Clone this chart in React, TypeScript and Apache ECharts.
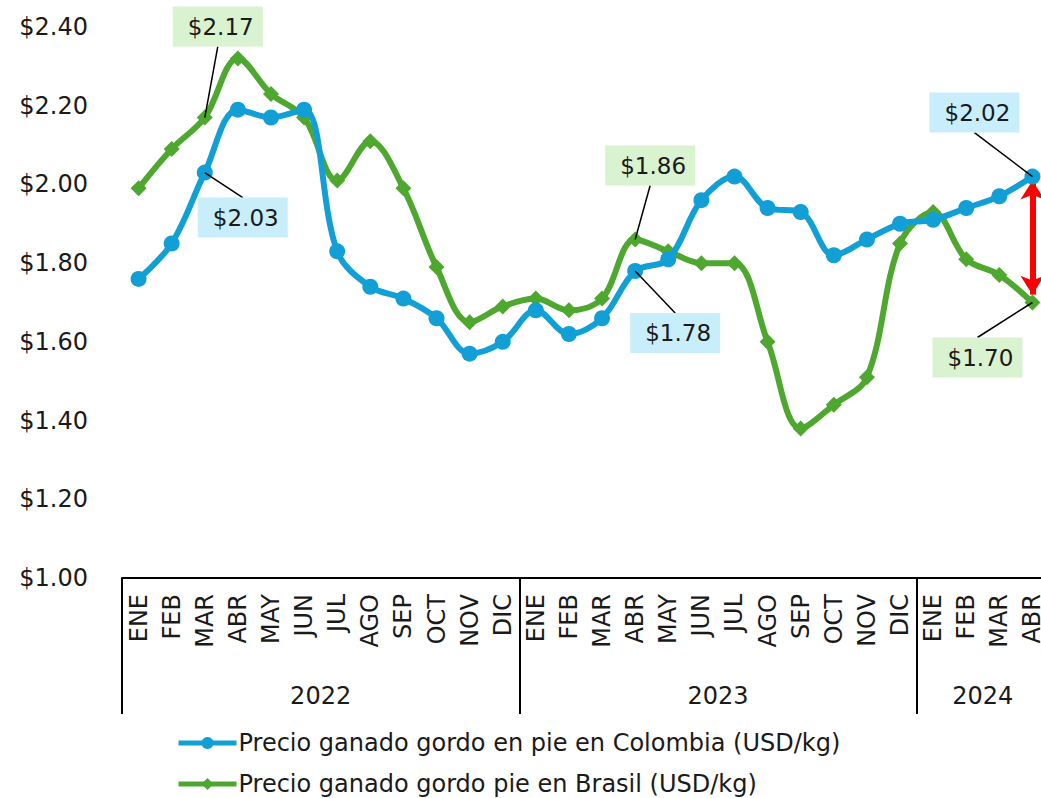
import React, { useEffect, useRef } from "react";
import * as echarts from "echarts";

const months = [
  "ENE", "FEB", "MAR", "ABR", "MAY", "JUN", "JUL", "AGO", "SEP", "OCT", "NOV", "DIC",
  "ENE", "FEB", "MAR", "ABR", "MAY", "JUN", "JUL", "AGO", "SEP", "OCT", "NOV", "DIC",
  "ENE", "FEB", "MAR", "ABR",
];
const years = ["2022", "2023", "2024"];
const yearCenters = [6, 18, 26];
const yearBounds = [0, 12, 24, 28];

const colombia = [
  1.76, 1.85, 2.03, 2.19, 2.17, 2.19, 1.83, 1.74, 1.71, 1.66, 1.57, 1.6,
  1.68, 1.62, 1.66, 1.78, 1.81, 1.96, 2.02, 1.94, 1.93, 1.82, 1.86, 1.9,
  1.91, 1.94, 1.97, 2.02,
];
const brasil = [
  1.99, 2.09, 2.17, 2.32, 2.23, 2.17, 2.01, 2.11, 1.99, 1.79, 1.65, 1.69,
  1.71, 1.68, 1.71, 1.86, 1.83, 1.8, 1.8, 1.6, 1.38, 1.44, 1.51, 1.85,
  1.93, 1.81, 1.77, 1.7,
];

const seriesNames = [
  "Precio ganado gordo en pie en Colombia (USD/kg)",
  "Precio ganado gordo pie en Brasil (USD/kg)",
];

// annotated points: [series, index, box dx, box dy, edge the leader line meets]
const notes: [number, number, number, number, "top" | "bottom"][] = [
  [1, 2, 13, -91, "bottom"],
  [0, 2, 38, 45, "top"],
  [1, 15, 15, -74, "bottom"],
  [0, 15, 40, 62, "top"],
  [0, 27, -58, -64, "bottom"],
  [1, 27, -55, 55, "top"],
];

const FONT = "DejaVu Sans";
const BLUE = "#129fd6";
const GREEN = "#4ea72e";
const BOX_BG = ["#c8eefb", "#d9f2d0"];
const TEXT = "#1a1a1a";

export default function App() {
  const ref = useRef<HTMLDivElement>(null);
  useEffect(() => {
    document.body.style.margin = "0";
    const chart = echarts.init(ref.current!, undefined, { renderer: "svg" });
    chart.setOption({
      animation: false,
      textStyle: { fontFamily: FONT },
      grid: {
        left: 122,
        width: 927,
        top: 27,
        bottom: 220,
        containLabel: false,
        outerBoundsMode: "none",
      },
      xAxis: [
        {
          type: "category",
          data: months,
          boundaryGap: true,
          axisLine: { lineStyle: { color: "#000", width: 2 } },
          axisTick: { show: false },
          axisLabel: { interval: 0, rotate: 90, fontSize: 24, color: TEXT, margin: 16, fontFamily: FONT },
        },
        {
          type: "value",
          min: 0,
          max: 28,
          position: "bottom",
          offset: 136,
          axisLine: { show: false },
          splitLine: { show: false },
          axisTick: {
            show: true,
            inside: true,
            length: 136,
            customValues: yearBounds,
            lineStyle: { color: "#000", width: 2 },
          },
          axisLabel: {
            show: true,
            inside: true,
            margin: 6,
            customValues: yearCenters,
            formatter: (v: number) => years[yearCenters.indexOf(v)] ?? "",
            fontSize: 24,
            color: TEXT,
            fontFamily: FONT,
          },
        },
      ],
      yAxis: {
        type: "value",
        min: 1,
        max: 2.4,
        interval: 0.2,
        axisLine: { show: false },
        axisTick: { show: false },
        splitLine: { show: false },
        axisLabel: {
          formatter: (v: number) => "$" + v.toFixed(2),
          fontSize: 24,
          color: TEXT,
          margin: 34,
          fontFamily: FONT,
        },
      },
      legend: {
        orient: "vertical",
        left: 176,
        top: 731,
        height: 90,
        padding: 0,
        itemWidth: 58,
        itemHeight: 15,
        itemGap: 17,
        lineStyle: { width: 5 },
        textStyle: { fontSize: 24, color: TEXT, fontFamily: FONT, padding: [0, 0, 0, -3] },
        data: seriesNames,
      },
      series: [
        {
          name: seriesNames[0],
          type: "line",
          smooth: 0.35,
          symbol: "circle",
          symbolSize: 16,
          color: BLUE,
          lineStyle: { width: 6, color: BLUE },
          itemStyle: { color: BLUE },
          data: colombia,
          markLine: {
            silent: true,
            symbol: ["arrow", "arrow"],
            symbolSize: [18, 19],
            label: { show: false },
            lineStyle: { color: "#ff0000", width: 6, type: "solid" },
            data: [[{ coord: [27, 2.01] }, { coord: [27, 1.72] }]],
            z: 1,
          },
          z: 3,
        },
        {
          name: seriesNames[1],
          type: "line",
          smooth: 0.35,
          symbol: "diamond",
          symbolSize: 16,
          color: GREEN,
          lineStyle: { width: 6, color: GREEN },
          itemStyle: { color: GREEN },
          data: brasil,
          z: 2,
        },
      ],
    });

    const values = [colombia, brasil];
    const W = 90;
    const H = 40;
    const graphic: any[] = [];
    notes.forEach(([s, i, dx, dy, edge]) => {
      const v = values[s][i];
      const p = chart.convertToPixel({ xAxisIndex: 0, yAxisIndex: 0 }, [i, v]) as number[];
      const cx = p[0] + dx;
      const cy = p[1] + dy;
      const ey = edge === "top" ? cy - H / 2 : cy + H / 2;
      graphic.push({
        type: "line",
        z: 20,
        silent: true,
        shape: { x1: cx, y1: ey, x2: p[0], y2: p[1] },
        style: { stroke: "#000", lineWidth: 1.5 },
      });
      graphic.push({
        type: "rect",
        z: 21,
        silent: true,
        shape: { x: cx - W / 2, y: cy - H / 2, width: W, height: H },
        style: { fill: BOX_BG[s] },
      });
      graphic.push({
        type: "text",
        z: 22,
        silent: true,
        x: cx + 3,
        y: cy,
        style: {
          text: "$" + v.toFixed(2),
          fill: TEXT,
          fontSize: 23,
          fontFamily: FONT,
          align: "center",
          verticalAlign: "middle",
        },
      });
    });
    chart.setOption({ graphic });
    return () => chart.dispose();
  }, []);
  return <div ref={ref} style={{ width: 1041, height: 798 }} />;
}
